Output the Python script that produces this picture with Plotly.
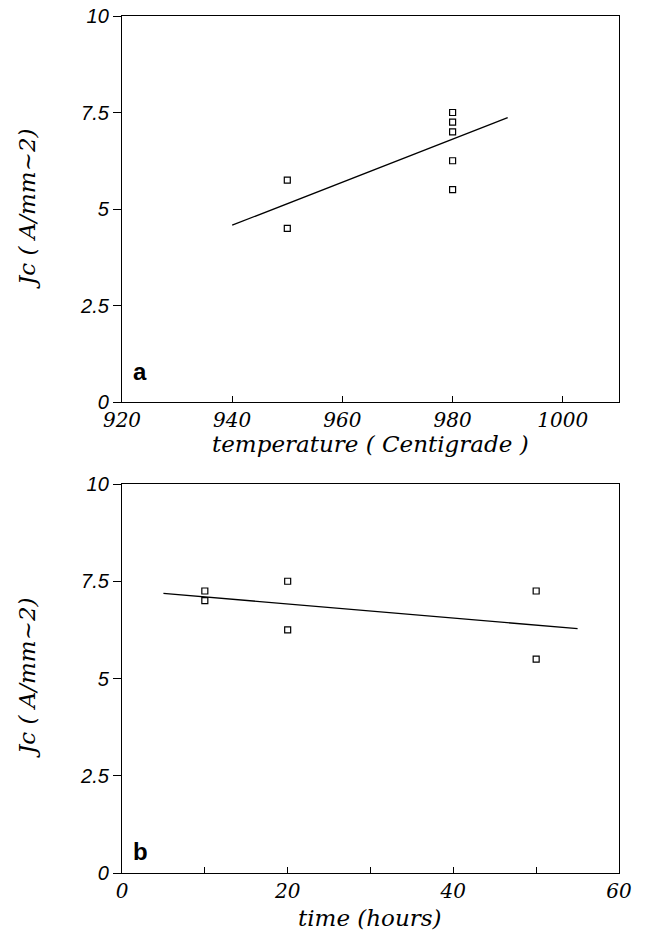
import plotly.graph_objects as go

# ---- data ----
temp_x = [950, 950, 980, 980, 980, 980, 980]
temp_jc = [5.75, 4.5, 7.5, 7.25, 7.0, 6.25, 5.5]
temp_fit_x = [940, 990]
temp_fit_y = [4.58, 7.37]

time_x = [10, 10, 20, 20, 50, 50]
time_jc = [7.25, 7.0, 7.5, 6.25, 7.25, 5.5]
time_fit_x = [5, 55]
time_fit_y = [7.19, 6.28]

y_ticks = [0, 2.5, 5, 7.5, 10]
y_ticklabels = ["0", "2.5", "5", "7.5", "10"]
temp_ticks = [920, 940, 960, 980, 1000]
time_ticks = [0, 20, 40, 60]
time_minor = [10, 30, 50]

y_title = "Jc ( A/mm~2)"
xa_title = "temperature ( Centigrade )"
xb_title = "time (hours)"
panel_labels = ["a", "b"]

SERIF = "DejaVu Serif"
SANS = "Liberation Sans"

W, H = 645, 933
L, R, T, B = 122, 26, 16, 60
PW = W - L - R
PH = H - T - B


def px_to_paper_x(px):
    return (px - L) / PW


def px_to_paper_y(py):
    return (H - B - py) / PH


dom_a = [px_to_paper_y(402), 1.0]
dom_b = [0.0, px_to_paper_y(484)]

fig = go.Figure()

marker = dict(symbol="square-open", size=6, color="black", line=dict(width=1.2, color="black"))

fig.add_trace(go.Scatter(x=temp_x, y=temp_jc, mode="markers", marker=marker,
                         xaxis="x", yaxis="y", showlegend=False))
fig.add_trace(go.Scatter(x=temp_fit_x, y=temp_fit_y, mode="lines",
                         line=dict(color="black", width=1.3), xaxis="x", yaxis="y", showlegend=False))
fig.add_trace(go.Scatter(x=time_x, y=time_jc, mode="markers", marker=marker,
                         xaxis="x2", yaxis="y2", showlegend=False))
fig.add_trace(go.Scatter(x=time_fit_x, y=time_fit_y, mode="lines",
                         line=dict(color="black", width=1.3), xaxis="x2", yaxis="y2", showlegend=False))

xfont = dict(family=SERIF, size=20, color="black", style="italic")
yfont = dict(family=SANS, size=20, color="black", style="italic")
titlefont = dict(family=SERIF, size=23, color="black", style="italic")

common_x = dict(showgrid=False, zeroline=False, showline=True, linecolor="black", linewidth=1.3,
                mirror=True, ticks="inside", ticklen=6, tickwidth=1, tickcolor="black",
                tickfont=xfont, fixedrange=True)
common_y = dict(showgrid=False, zeroline=False, showline=True, linecolor="black", linewidth=1.3,
                mirror=True, ticks="outside", ticklen=8, tickwidth=1, tickcolor="black",
                tickfont=yfont, range=[0, 10], tickvals=y_ticks, ticktext=y_ticklabels,
                fixedrange=True)

annotations = [
    # x-axis titles
    dict(text=xa_title, x=px_to_paper_x(370), y=px_to_paper_y(444), xanchor="center", yanchor="middle"),
    dict(text=xb_title, x=px_to_paper_x(370), y=px_to_paper_y(918), xanchor="center", yanchor="middle"),
    # y-axis titles
    dict(text=y_title, x=px_to_paper_x(27), y=px_to_paper_y(209), xanchor="center", yanchor="middle",
         textangle=-90),
    dict(text=y_title, x=px_to_paper_x(27), y=px_to_paper_y(678), xanchor="center", yanchor="middle",
         textangle=-90),
]
for a in annotations:
    a.update(xref="paper", yref="paper", showarrow=False, font=titlefont)

panel_font = dict(family=SANS, size=24, color="black")
annotations += [
    dict(text="<b>%s</b>" % panel_labels[0], x=px_to_paper_x(131), y=px_to_paper_y(387),
         xref="paper", yref="paper", xanchor="left", yanchor="bottom", showarrow=False, font=panel_font),
    dict(text="<b>%s</b>" % panel_labels[1], x=px_to_paper_x(131), y=px_to_paper_y(867),
         xref="paper", yref="paper", xanchor="left", yanchor="bottom", showarrow=False, font=panel_font),
]

fig.update_layout(
    width=W, height=H,
    margin=dict(l=L, r=R, t=T, b=B, autoexpand=False),
    paper_bgcolor="white", plot_bgcolor="white",
    xaxis=dict(common_x, domain=[0, 1], anchor="y", range=[920, 1010.2], tickvals=temp_ticks),
    yaxis=dict(common_y, domain=dom_a, anchor="x"),
    xaxis2=dict(common_x, domain=[0, 1], anchor="y2", range=[0, 60], tickvals=time_ticks,
                minor=dict(tickvals=time_minor, ticks="inside", ticklen=6, tickcolor="black")),
    yaxis2=dict(common_y, domain=dom_b, anchor="x2"),
    annotations=annotations,
)

fig.write_html("out.html", config={"displayModeBar": False},
               post_script="document.body.style.margin='0px';document.body.style.overflow='hidden';")
